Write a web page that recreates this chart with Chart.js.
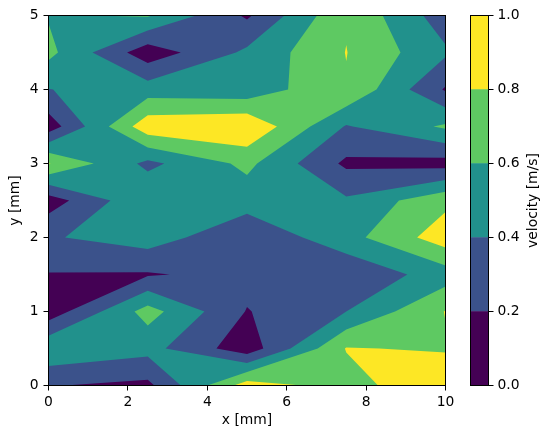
<!DOCTYPE html>
<html><head><meta charset="utf-8">
<script src="https://cdn.jsdelivr.net/npm/chart.js@4.4.1/dist/chart.umd.min.js"></script>
<style>
html,body{margin:0;padding:0;background:#fff;}
#wrap{position:relative;width:549px;height:438px;background:#fff;}
canvas{position:absolute;left:0;top:0;}
</style></head><body>
<div id="wrap"><canvas id="main" width="549" height="438"></canvas><canvas id="cbar" width="549" height="438"></canvas></div>
<script>
// grid nodes
const xNodes = [0, 2.5, 5, 7.5, 10];
const yNodes = [0, 0.5, 1, 1.5, 2, 2.5, 3, 3.5, 4, 4.5, 5];
// velocity [m/s] at nodes, one row per y value (x = 0, 2.5, 5, 7.5, 10)
const vY0_0 = [0.21, 0.15, 0.90, 0.72, 0.97];
const vY0_5 = [0.57, 0.47, 0.08, 0.81, 0.78];
const vY1_0 = [0.08, 0.68, 0.19, 0.40, 0.807];
const vY1_5 = [0.19, 0.18, 0.27, 0.24, 0.50];
const vY2_0 = [0.38, 0.50, 0.24, 0.525, 0.91];
const vY2_5 = [0.10, 0.58, 0.49, 0.43, 0.75];
const vY3_0 = [0.81, 0.35, 0.65, 0.16, 0.12];
const vY3_5 = [0.09, 0.93, 0.98, 0.384, 0.63];
const vY4_0 = [0.395, 0.50, 0.47, 0.784, 0.18];
const vY4_5 = [0.655, 0.08, 0.44, 0.805, 0.43];
const vY5_0 = [0.585, 0.62, 0.17, 0.78, 0.29];
const velocity = [vY0_0, vY0_5, vY1_0, vY1_5, vY2_0, vY2_5, vY3_0, vY3_5, vY4_0, vY4_5, vY5_0];
// contour levels and colours
const levels = [0, 0.2, 0.4, 0.6, 0.8, 1.0];
const bandColors = ['#440154', '#3b528b', '#21918c', '#5ec962', '#fde725'];
// tick labels
const xTicks = [0, 2, 4, 6, 8, 10];
const yTicks = [0, 1, 2, 3, 4, 5];
const cbTicks = [0, 0.2, 0.4, 0.6, 0.8, 1.0];

const FONT = 'DejaVu Sans';
const FS = 13.89;
Chart.defaults.font.family = FONT;
Chart.defaults.font.size = FS;
Chart.defaults.color = '#000';

function superlevel(c, L) {
  const ab = c.map(p => p[2] >= L);
  const n = ab.filter(Boolean).length;
  if (n === 0) return [];
  const pts = [];
  for (let e = 0; e < 4; e++) {
    const p = c[e], q = c[(e + 1) % 4];
    if (p[2] >= L) pts.push([p[0], p[1]]);
    if ((p[2] >= L) !== (q[2] >= L)) {
      const t = (L - p[2]) / (q[2] - p[2]);
      pts.push([p[0] + t * (q[0] - p[0]), p[1] + t * (q[1] - p[1])]);
    }
  }
  if (n === 2 && ab[0] === ab[2]) {
    const mid = (c[0][2] + c[1][2] + c[2][2] + c[3][2]) / 4;
    if (mid < L) {
      if (ab[0]) return [[pts[0], pts[1], pts[5]], [pts[2], pts[3], pts[4]]];
      return [[pts[0], pts[1], pts[2]], [pts[3], pts[4], pts[5]]];
    }
  }
  return [pts];
}

const contourPlugin = {
  id: 'contour',
  beforeDatasetsDraw(chart) {
    const {ctx, chartArea: a, scales: {x, y}} = chart;
    ctx.save();
    ctx.beginPath();
    ctx.rect(a.left, a.top, a.right - a.left, a.bottom - a.top);
    ctx.clip();
    for (let k = 0; k < bandColors.length; k++) {
      const L = levels[k];
      const path = new Path2D();
      for (let j = 0; j < yNodes.length - 1; j++) {
        for (let i = 0; i < xNodes.length - 1; i++) {
          const c = [
            [xNodes[i], yNodes[j], velocity[j][i]],
            [xNodes[i + 1], yNodes[j], velocity[j][i + 1]],
            [xNodes[i + 1], yNodes[j + 1], velocity[j + 1][i + 1]],
            [xNodes[i], yNodes[j + 1], velocity[j + 1][i]]
          ];
          for (const poly of superlevel(c, L)) {
            poly.forEach((p, m) => {
              const px = x.getPixelForValue(p[0]), py = y.getPixelForValue(p[1]);
              if (m === 0) path.moveTo(px, py); else path.lineTo(px, py);
            });
            path.closePath();
          }
        }
      }
      ctx.fillStyle = bandColors[k];
      ctx.fill(path);
    }
    ctx.restore();
  },
  afterDraw(chart) {
    const {ctx, chartArea: a} = chart;
    ctx.save();
    ctx.strokeStyle = '#000';
    ctx.lineWidth = 1;
    ctx.strokeRect(a.left, a.top, a.right - a.left, a.bottom - a.top);
    ctx.restore();
  }
};

const axisCommon = {
  type: 'linear',
  grid: {display: true, drawOnChartArea: false, drawTicks: true, tickLength: 5, color: '#000', lineWidth: 1},
  border: {display: false},
};

new Chart(document.getElementById('main'), {
  type: 'scatter',
  data: {datasets: []},
  options: {
    responsive: false, animation: false, devicePixelRatio: 1,
    layout: {padding: {top: 15.5, right: 103.5, left: 0, bottom: 0}},
    plugins: {legend: {display: false}, tooltip: {enabled: false}},
    scales: {
      x: Object.assign({}, axisCommon, {
        min: 0, max: 10,
        afterFit: s => { s.height = 52.5; },
        afterBuildTicks: s => { s.ticks = xTicks.map(v => ({value: v})); },
        ticks: {color: '#000', padding: 4, maxRotation: 0, autoSkip: false, callback: v => String(v)},
        title: {display: true, text: 'x [mm]', color: '#000', padding: {top: 0, bottom: 9}}
      }),
      y: Object.assign({}, axisCommon, {
        min: 0, max: 5,
        afterFit: s => { s.width = 48.5; },
        afterBuildTicks: s => { s.ticks = yTicks.map(v => ({value: v})); },
        ticks: {color: '#000', padding: 5, autoSkip: false, callback: v => String(v)},
        title: {display: true, text: 'y [mm]', color: '#000', padding: {top: 7, bottom: 0}}
      })
    }
  },
  plugins: [contourPlugin]
});

const cbarPlugin = {
  id: 'cbarFrame',
  afterDraw(chart) {
    const {ctx, chartArea: a} = chart;
    ctx.save();
    ctx.strokeStyle = '#000';
    ctx.lineWidth = 1;
    ctx.strokeRect(a.left, a.top, a.right - a.left, a.bottom - a.top);
    ctx.translate(533, (a.top + a.bottom) / 2);
    ctx.rotate(-Math.PI / 2);
    ctx.fillStyle = '#000';
    ctx.font = FS + 'px "' + FONT + '"';
    ctx.textAlign = 'center';
    ctx.textBaseline = 'middle';
    ctx.fillText('velocity [m/s]', 0, 0);
    ctx.restore();
  }
};

new Chart(document.getElementById('cbar'), {
  type: 'bar',
  data: {
    labels: [''],
    datasets: bandColors.map((c, k) => ({
      data: [[levels[k], levels[k + 1]]],
      backgroundColor: c, borderWidth: 0,
      barPercentage: 1, categoryPercentage: 1, grouped: false
    }))
  },
  options: {
    responsive: false, animation: false, devicePixelRatio: 1,
    layout: {padding: {left: 470.5, top: 15.5, bottom: 52.5, right: 0}},
    plugins: {legend: {display: false}, tooltip: {enabled: false}},
    scales: {
      x: {display: false},
      y: {
        position: 'right', min: 0, max: 1,
        afterFit: s => { s.width = 60.5; },
        afterBuildTicks: s => { s.ticks = cbTicks.map(v => ({value: v})); },
        ticks: {color: '#000', padding: 4, callback: v => Number(v).toFixed(1)},
        grid: {display: true, drawOnChartArea: false, drawTicks: true, tickLength: 5, color: '#000', lineWidth: 1},
        border: {display: false}
      }
    }
  },
  plugins: [cbarPlugin]
});
</script>
</body></html>
